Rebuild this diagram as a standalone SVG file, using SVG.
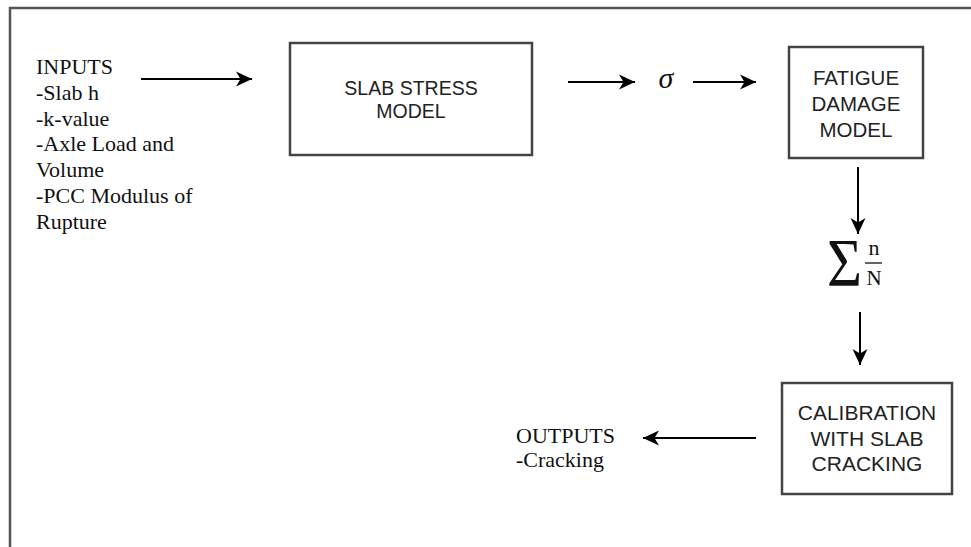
<svg xmlns="http://www.w3.org/2000/svg" width="971" height="547" viewBox="0 0 971 547">
<style>
.frame{stroke:#555;stroke-width:2.5;fill:none}
.box{fill:#fff;stroke:#444;stroke-width:2.5}
.con{stroke:#000;stroke-width:2;fill:none;marker-end:url(#arr)}
.serif{font-family:"Liberation Serif","Times New Roman",serif;font-size:22px;fill:#111}
.sans{font-family:"Liberation Sans",Arial,sans-serif;fill:#222;text-anchor:middle}
</style>
<defs>
<marker id="arr" markerUnits="userSpaceOnUse" markerWidth="18" markerHeight="16" refX="16" refY="8" orient="auto">
<path d="M0,0.5 L16,8 L0,15.5 L4.5,8 Z" fill="#000"/>
</marker>
</defs>
<rect width="971" height="547" fill="#fff"/>
<path class="frame" d="M10,547 L10,8 L971,8"/>
<g id="inputs">
<text class="serif" x="36" y="74">INPUTS</text>
<text class="serif" x="36" y="100">-Slab h</text>
<text class="serif" x="36" y="126">-k-value</text>
<text class="serif" x="36" y="151">-Axle Load and</text>
<text class="serif" x="36" y="177">Volume</text>
<text class="serif" x="36" y="203">-PCC Modulus of</text>
<text class="serif" x="36" y="229">Rupture</text>
</g>
<g id="slab-stress">
<rect class="box" x="290" y="43" width="242" height="112"/>
<text class="sans" x="411" y="95" font-size="19.5">SLAB STRESS</text>
<text class="sans" x="411" y="118" font-size="19.5">MODEL</text>
</g>
<g id="sigma">
<text x="666" y="88" font-family="Liberation Serif,serif" font-style="italic" font-size="30" text-anchor="middle" fill="#111">σ</text>
</g>
<g id="fatigue">
<rect class="box" x="789" y="47" width="134" height="111"/>
<text class="sans" x="856" y="85" font-size="20.5">FATIGUE</text>
<text class="sans" x="856" y="111" font-size="20.5">DAMAGE</text>
<text class="sans" x="856" y="137" font-size="20.5">MODEL</text>
</g>
<g id="sum">
<text x="827" y="285" font-family="Liberation Serif,serif" font-size="68" textLength="35" lengthAdjust="spacingAndGlyphs" fill="#111">Σ</text>
<text x="874" y="255" font-family="Liberation Serif,serif" font-size="22" text-anchor="middle" fill="#111">n</text>
<line x1="865" y1="263" x2="882" y2="263" stroke="#111" stroke-width="1.3"/>
<text x="874" y="285" font-family="Liberation Serif,serif" font-size="21" text-anchor="middle" fill="#111">N</text>
</g>
<g id="calibration">
<rect class="box" x="782" y="383" width="170" height="111"/>
<text class="sans" x="867" y="420" font-size="21">CALIBRATION</text>
<text class="sans" x="867" y="446" font-size="21">WITH SLAB</text>
<text class="sans" x="867" y="471" font-size="21">CRACKING</text>
</g>
<g id="outputs">
<text class="serif" x="516" y="443">OUTPUTS</text>
<text class="serif" x="516" y="467">-Cracking</text>
</g>
<g id="connectors">
<line class="con" x1="141" y1="79" x2="252" y2="79"/>
<line class="con" x1="568" y1="82" x2="635" y2="82"/>
<line class="con" x1="693" y1="82" x2="756" y2="82"/>
<line class="con" x1="858" y1="167" x2="858" y2="234"/>
<line class="con" x1="860" y1="312" x2="860" y2="365"/>
<line class="con" x1="756" y1="438" x2="643" y2="438"/>
</g>
</svg>
